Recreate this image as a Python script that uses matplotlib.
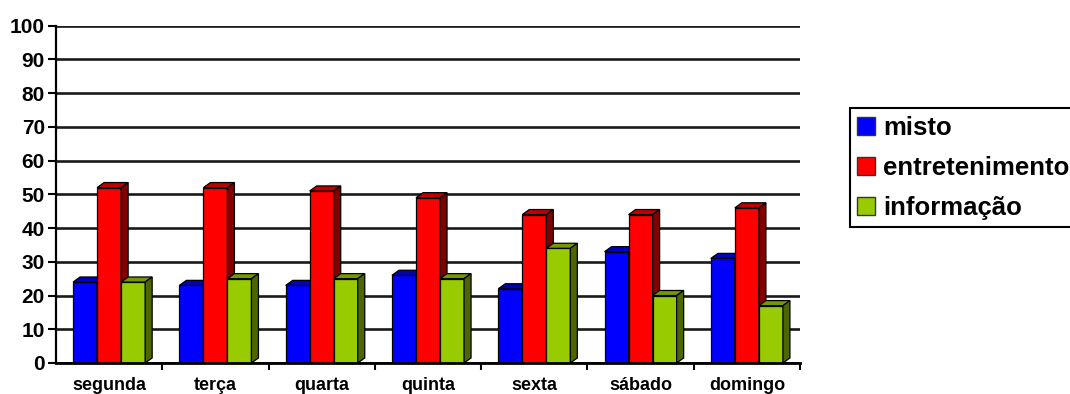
import numpy as np
import matplotlib
matplotlib.use("Agg")
import matplotlib.pyplot as plt
from matplotlib.patches import Polygon, Patch

plt.rcParams['font.family'] = ['Liberation Sans', 'DejaVu Sans']
plt.rcParams['font.weight'] = 'bold'

# Dados
dias = ['segunda', 'terça', 'quarta', 'quinta', 'sexta', 'sábado', 'domingo']
misto = [24, 23, 23, 26, 22, 33, 31]
entretenimento = [52, 52, 51, 49, 44, 44, 46]
informacao = [24, 25, 25, 25, 34, 20, 17]
series_nomes = ['misto', 'entretenimento', 'informação']

# cores: frente, topo, lado
cores = [('#0000FF', '#0000C0', '#000080'),
         ('#FF0000', '#C00000', '#800000'),
         ('#99CC00', '#739900', '#4D6600')]

fig = plt.figure(figsize=(10.7, 3.94), dpi=100)
ax = fig.add_axes([0.0523, 0.0787, 0.6954, 0.856])

x = np.arange(len(dias))
w = 0.226
dx = 0.066   # profundidade 3D (dados)
dy = 1.5

for k in range(0, 11):
    ax.axhline(k * 10, color='#1a1a1a', lw=1.9, zorder=0)

series = [misto, entretenimento, informacao]
z = 2
for i in range(len(dias)):
    for s, vals in enumerate(series):
        x0 = x[i] - 1.5 * w + s * w
        x1 = x0 + w
        h = vals[i]
        front, top, side = cores[s]
        ax.bar(x0, h, width=w, align='edge', color=front, edgecolor='black',
               lw=0.9, zorder=z)
        ax.add_patch(Polygon([(x0, h), (x1, h), (x1 + dx, h + dy), (x0 + dx, h + dy)],
                             closed=True, facecolor=top, edgecolor='black', lw=0.9,
                             zorder=z))
        ax.add_patch(Polygon([(x1, 0), (x1 + dx, dy), (x1 + dx, h + dy), (x1, h)],
                             closed=True, facecolor=side, edgecolor='black', lw=0.9,
                             zorder=z))
        z += 1

ax.set_xlim(-0.5, len(dias) - 0.5)
ax.set_ylim(0, 100)
ax.set_yticks(np.arange(0, 101, 10))
ax.tick_params(axis='y', labelsize=15, length=6, width=1.5, pad=2)
ax.set_xticks(x)
ax.set_xticklabels(dias)
ax.tick_params(axis='x', which='major', labelsize=13, length=0, pad=10)
ax.set_xticks(np.arange(0.5, len(dias), 1), minor=True)
ax.tick_params(axis='x', which='minor', length=5, width=1.5, direction='out')

for sp in ['top', 'right']:
    ax.spines[sp].set_visible(False)
ax.spines['left'].set_linewidth(1.6)
ax.spines['bottom'].set_linewidth(2)
ax.spines['bottom'].set_zorder(100)

handles = [Patch(facecolor=cores[s][0], edgecolor='#333333', lw=1) for s in range(3)]
leg = fig.legend(handles, series_nomes, loc='upper left', bbox_to_anchor=(0.794, 0.726),
                 fontsize=18.5, frameon=True, fancybox=False, framealpha=1,
                 edgecolor='black', handlelength=0.7, handleheight=0.7,
                 handletextpad=0.3, labelspacing=0.62, borderpad=0.3,
                 borderaxespad=0)
leg.get_frame().set_linewidth(1.5)

fig.savefig('out.png', dpi=100)
